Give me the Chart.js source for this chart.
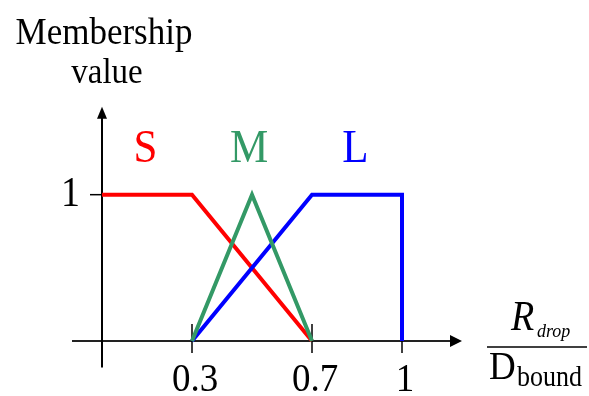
<!DOCTYPE html>
<html>
<head>
<meta charset="utf-8">
<script src="https://cdn.jsdelivr.net/npm/chart.js@4/dist/chart.umd.min.js"></script>
<style>
  html, body { margin: 0; padding: 0; background: #ffffff; }
  #wrap { width: 589px; height: 396px; position: relative; }
</style>
</head>
<body>
<div id="wrap"><canvas id="c"></canvas></div>
<script>
// Membership functions over the normalised drop ratio R_drop / D_bound
const xTicks = [0.3, 0.7, 1];
const xTickLabels = ['0.3', '0.7', '1'];
const yTicks = [1];
const yTickLabels = ['1'];

const seriesNames = ['S', 'M', 'L'];
const sX = [0, 0.3, 0.7];
const sY = [1, 1, 0];
const mX = [0.3, 0.5, 0.7];
const mY = [0, 1, 0];
const lX = [0.3, 0.7, 1, 1];
const lY = [0, 1, 1, 0];

const RED = '#ff0000';
const GREEN = '#339966';
const BLUE = '#0000ff';
const SERIF = '"Liberation Serif", "Times New Roman", serif';
const STRETCH = 1.1; // glyphs are drawn slightly taller than wide

function pts(xs, ys) { return xs.map((x, i) => ({ x: x, y: ys[i] })); }

function txt(ctx, s, x, y, font, color, align) {
  ctx.save();
  ctx.font = font;
  ctx.fillStyle = color;
  ctx.textAlign = align || 'center';
  ctx.textBaseline = 'alphabetic';
  ctx.translate(x, y);
  ctx.scale(1, STRETCH);
  ctx.fillText(s, 0, 0);
  ctx.restore();
}

const axesPlugin = {
  id: 'axesPlugin',
  beforeDatasetsDraw(chart) {
    const ctx = chart.ctx;
    const xs = chart.scales.x, ys = chart.scales.y;
    const x0 = xs.getPixelForValue(0), y0 = ys.getPixelForValue(0);
    const xEnd = xs.getPixelForValue(1.2), xStart = xs.getPixelForValue(-0.1);
    const yTop = ys.getPixelForValue(1.6), yBot = ys.getPixelForValue(-0.18);
    ctx.save();
    ctx.lineCap = 'butt';
    // horizontal axis
    ctx.strokeStyle = '#222222';
    ctx.lineWidth = 2;
    ctx.beginPath(); ctx.moveTo(xStart, y0); ctx.lineTo(xEnd - 8, y0); ctx.stroke();
    ctx.fillStyle = '#000000';
    ctx.beginPath(); ctx.moveTo(xEnd, y0); ctx.lineTo(xEnd - 12, y0 - 6); ctx.lineTo(xEnd - 12, y0 + 6); ctx.closePath(); ctx.fill();
    // vertical axis
    ctx.strokeStyle = '#000000';
    ctx.beginPath(); ctx.moveTo(x0, yBot); ctx.lineTo(x0, yTop + 8); ctx.stroke();
    ctx.beginPath(); ctx.moveTo(x0, yTop); ctx.lineTo(x0 - 5, yTop + 12); ctx.lineTo(x0 + 5, yTop + 12); ctx.closePath(); ctx.fill();
    // tick marks
    ctx.lineWidth = 1.5;
    xTicks.forEach(v => {
      const p = xs.getPixelForValue(v);
      ctx.beginPath(); ctx.moveTo(p, y0 - 17); ctx.lineTo(p, y0 + 12); ctx.stroke();
    });
    yTicks.forEach(v => {
      const p = ys.getPixelForValue(v);
      ctx.beginPath(); ctx.moveTo(x0 - 12, p); ctx.lineTo(x0, p); ctx.stroke();
    });
    ctx.restore();

    // tick labels
    xTicks.forEach((v, i) => {
      txt(ctx, xTickLabels[i], xs.getPixelForValue(v) + 3, 391, '37px ' + SERIF, '#000', 'center');
    });
    yTicks.forEach((v, i) => {
      txt(ctx, yTickLabels[i], 80, ys.getPixelForValue(v) + 11, '38px ' + SERIF, '#000', 'right');
    });

    // axis titles
    txt(ctx, 'Membership', 104, 44, '35px ' + SERIF, '#000', 'center');
    txt(ctx, 'value', 107, 83, '33px ' + SERIF, '#000', 'center');

    // R_drop / D_bound
    ctx.save();
    ctx.strokeStyle = '#000';
    ctx.lineWidth = 1.5;
    ctx.beginPath(); ctx.moveTo(487, 347); ctx.lineTo(587, 347); ctx.stroke();
    ctx.restore();
    txt(ctx, 'R', 511, 330, 'italic 38px ' + SERIF, '#000', 'left');
    txt(ctx, 'drop', 537, 337, 'italic 18px ' + SERIF, '#000', 'left');
    txt(ctx, 'D', 489, 379, '37px ' + SERIF, '#000', 'left');
    txt(ctx, 'bound', 517, 386, '26px ' + SERIF, '#000', 'left');
  },
  afterDatasetsDraw(chart) {
    const ctx = chart.ctx;
    const xs = chart.scales.x, ys = chart.scales.y;
    const colors = [RED, GREEN, BLUE];
    const at = [0.145, 0.49, 0.845];
    seriesNames.forEach((n, i) => {
      txt(ctx, n, xs.getPixelForValue(at[i]), ys.getPixelForValue(1.22), '43px ' + SERIF, colors[i], 'center');
    });
  }
};

const common = { fill: false, pointRadius: 0, borderWidth: 4, borderJoinStyle: 'miter', borderCapStyle: 'butt', tension: 0 };

new Chart(document.getElementById('c'), {
  type: 'line',
  data: {
    datasets: [
      Object.assign({ label: seriesNames[1], data: pts(mX, mY), borderColor: GREEN, order: 1 }, common),
      Object.assign({ label: seriesNames[2], data: pts(lX, lY), borderColor: BLUE, order: 2, borderWidth: 4.5 }, common),
      Object.assign({ label: seriesNames[0], data: pts(sX, sY), borderColor: RED, order: 3 }, common)
    ]
  },
  options: {
    responsive: true,
    maintainAspectRatio: false,
    animation: false,
    layout: { padding: { left: 12, right: 7, top: 19, bottom: 11 } },
    plugins: { legend: { display: false }, tooltip: { enabled: false } },
    scales: {
      x: { type: 'linear', min: -0.3, max: 1.6, display: false },
      y: { type: 'linear', min: -0.3, max: 2.2, display: false }
    }
  },
  plugins: [axesPlugin]
});
</script>
</body>
</html>
